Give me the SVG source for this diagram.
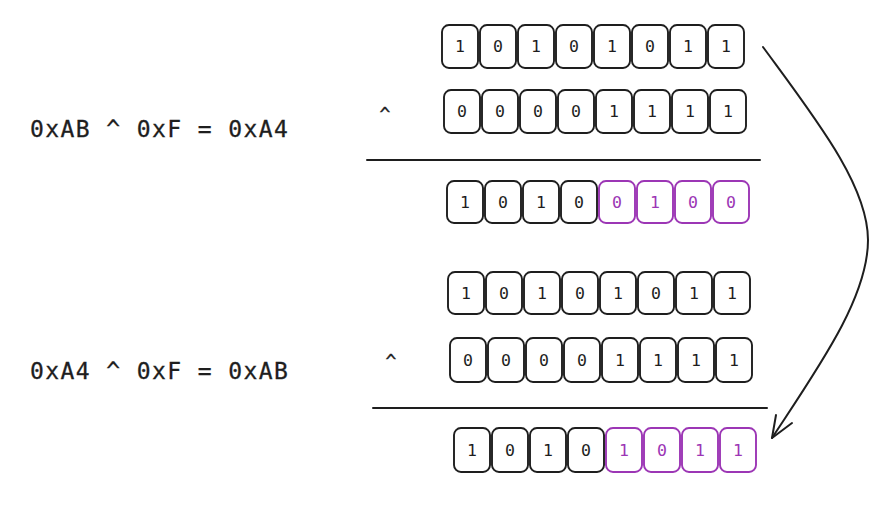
<svg xmlns="http://www.w3.org/2000/svg" width="895" height="507" viewBox="0 0 895 507">
<style>
.b{fill:#fff;stroke:#1e1e1e;stroke-width:1.9}
.p{fill:#fff;stroke:#9c36b5;stroke-width:1.9}
.d{font-family:"DejaVu Sans Mono","Liberation Mono",monospace;font-size:16.5px;fill:#1e1e1e;text-anchor:middle}
.dp{font-family:"DejaVu Sans Mono","Liberation Mono",monospace;font-size:16.5px;fill:#9c36b5;text-anchor:middle}
.eq{font-family:"DejaVu Sans Mono","Liberation Mono",monospace;font-size:23px;fill:#1e1e1e;letter-spacing:1.4px;stroke:#1e1e1e;stroke-width:0.3}
.op{font-family:"DejaVu Sans Mono","Liberation Mono",monospace;font-size:18px;fill:#1e1e1e;text-anchor:middle;stroke:#1e1e1e;stroke-width:0.4}
.ln{stroke:#1e1e1e;stroke-width:2;fill:none;stroke-linecap:round;stroke-linejoin:round}
</style>
<g id="eq1"><text class="eq" x="30" y="137">0xAB ^ 0xF = 0xA4</text></g>
<g id="eq2"><text class="eq" x="30" y="379">0xA4 ^ 0xF = 0xAB</text></g>
<g id="op1"><text class="op" x="385" y="120">^</text></g>
<g id="op2"><text class="op" x="391" y="367">^</text></g>

<g id="row1" transform="translate(442,25)">
<rect class="b" x="0" y="0" width="36" height="43" rx="7"/><text class="d" x="18" y="27">1</text>
<rect class="b" x="38" y="0" width="36" height="43" rx="7"/><text class="d" x="56" y="27">0</text>
<rect class="b" x="76" y="0" width="36" height="43" rx="7"/><text class="d" x="94" y="27">1</text>
<rect class="b" x="114" y="0" width="36" height="43" rx="7"/><text class="d" x="132" y="27">0</text>
<rect class="b" x="152" y="0" width="36" height="43" rx="7"/><text class="d" x="170" y="27">1</text>
<rect class="b" x="190" y="0" width="36" height="43" rx="7"/><text class="d" x="208" y="27">0</text>
<rect class="b" x="228" y="0" width="36" height="43" rx="7"/><text class="d" x="246" y="27">1</text>
<rect class="b" x="266" y="0" width="36" height="43" rx="7"/><text class="d" x="284" y="27">1</text>
</g>
<g id="row2" transform="translate(444,90)">
<rect class="b" x="0" y="0" width="36" height="43" rx="7"/><text class="d" x="18" y="27">0</text>
<rect class="b" x="38" y="0" width="36" height="43" rx="7"/><text class="d" x="56" y="27">0</text>
<rect class="b" x="76" y="0" width="36" height="43" rx="7"/><text class="d" x="94" y="27">0</text>
<rect class="b" x="114" y="0" width="36" height="43" rx="7"/><text class="d" x="132" y="27">0</text>
<rect class="b" x="152" y="0" width="36" height="43" rx="7"/><text class="d" x="170" y="27">1</text>
<rect class="b" x="190" y="0" width="36" height="43" rx="7"/><text class="d" x="208" y="27">1</text>
<rect class="b" x="228" y="0" width="36" height="43" rx="7"/><text class="d" x="246" y="27">1</text>
<rect class="b" x="266" y="0" width="36" height="43" rx="7"/><text class="d" x="284" y="27">1</text>
</g>
<g id="row3" transform="translate(447,181)">
<rect class="b" x="0" y="0" width="36" height="42" rx="7"/><text class="d" x="18" y="27">1</text>
<rect class="b" x="38" y="0" width="36" height="42" rx="7"/><text class="d" x="56" y="27">0</text>
<rect class="b" x="76" y="0" width="36" height="42" rx="7"/><text class="d" x="94" y="27">1</text>
<rect class="b" x="114" y="0" width="36" height="42" rx="7"/><text class="d" x="132" y="27">0</text>
<rect class="p" x="152" y="0" width="36" height="42" rx="7"/><text class="dp" x="170" y="27">0</text>
<rect class="p" x="190" y="0" width="36" height="42" rx="7"/><text class="dp" x="208" y="27">1</text>
<rect class="p" x="228" y="0" width="36" height="42" rx="7"/><text class="dp" x="246" y="27">0</text>
<rect class="p" x="266" y="0" width="36" height="42" rx="7"/><text class="dp" x="284" y="27">0</text>
</g>
<g id="row4" transform="translate(448,272)">
<rect class="b" x="0" y="0" width="36" height="42" rx="7"/><text class="d" x="18" y="27">1</text>
<rect class="b" x="38" y="0" width="36" height="42" rx="7"/><text class="d" x="56" y="27">0</text>
<rect class="b" x="76" y="0" width="36" height="42" rx="7"/><text class="d" x="94" y="27">1</text>
<rect class="b" x="114" y="0" width="36" height="42" rx="7"/><text class="d" x="132" y="27">0</text>
<rect class="b" x="152" y="0" width="36" height="42" rx="7"/><text class="d" x="170" y="27">1</text>
<rect class="b" x="190" y="0" width="36" height="42" rx="7"/><text class="d" x="208" y="27">0</text>
<rect class="b" x="228" y="0" width="36" height="42" rx="7"/><text class="d" x="246" y="27">1</text>
<rect class="b" x="266" y="0" width="36" height="42" rx="7"/><text class="d" x="284" y="27">1</text>
</g>
<g id="row5" transform="translate(450,338)">
<rect class="b" x="0" y="0" width="36" height="44" rx="7"/><text class="d" x="18" y="28">0</text>
<rect class="b" x="38" y="0" width="36" height="44" rx="7"/><text class="d" x="56" y="28">0</text>
<rect class="b" x="76" y="0" width="36" height="44" rx="7"/><text class="d" x="94" y="28">0</text>
<rect class="b" x="114" y="0" width="36" height="44" rx="7"/><text class="d" x="132" y="28">0</text>
<rect class="b" x="152" y="0" width="36" height="44" rx="7"/><text class="d" x="170" y="28">1</text>
<rect class="b" x="190" y="0" width="36" height="44" rx="7"/><text class="d" x="208" y="28">1</text>
<rect class="b" x="228" y="0" width="36" height="44" rx="7"/><text class="d" x="246" y="28">1</text>
<rect class="b" x="266" y="0" width="36" height="44" rx="7"/><text class="d" x="284" y="28">1</text>
</g>
<g id="row6" transform="translate(454,428)">
<rect class="b" x="0" y="0" width="36" height="44" rx="7"/><text class="d" x="18" y="28">1</text>
<rect class="b" x="38" y="0" width="36" height="44" rx="7"/><text class="d" x="56" y="28">0</text>
<rect class="b" x="76" y="0" width="36" height="44" rx="7"/><text class="d" x="94" y="28">1</text>
<rect class="b" x="114" y="0" width="36" height="44" rx="7"/><text class="d" x="132" y="28">0</text>
<rect class="p" x="152" y="0" width="36" height="44" rx="7"/><text class="dp" x="170" y="28">1</text>
<rect class="p" x="190" y="0" width="36" height="44" rx="7"/><text class="dp" x="208" y="28">0</text>
<rect class="p" x="228" y="0" width="36" height="44" rx="7"/><text class="dp" x="246" y="28">1</text>
<rect class="p" x="266" y="0" width="36" height="44" rx="7"/><text class="dp" x="284" y="28">1</text>
</g>

<g id="connectors">
<line class="ln" x1="367" y1="160" x2="760" y2="160"/>
<line class="ln" x1="373" y1="408" x2="767" y2="408"/>
<path class="ln" stroke-width="1.7" d="M763,47 C815,118 868,185 868,240 C868,298 818,368 772,438"/>
<polyline class="ln" stroke-width="1.7" points="776,415 772,438 792,423"/>
</g>
</svg>
